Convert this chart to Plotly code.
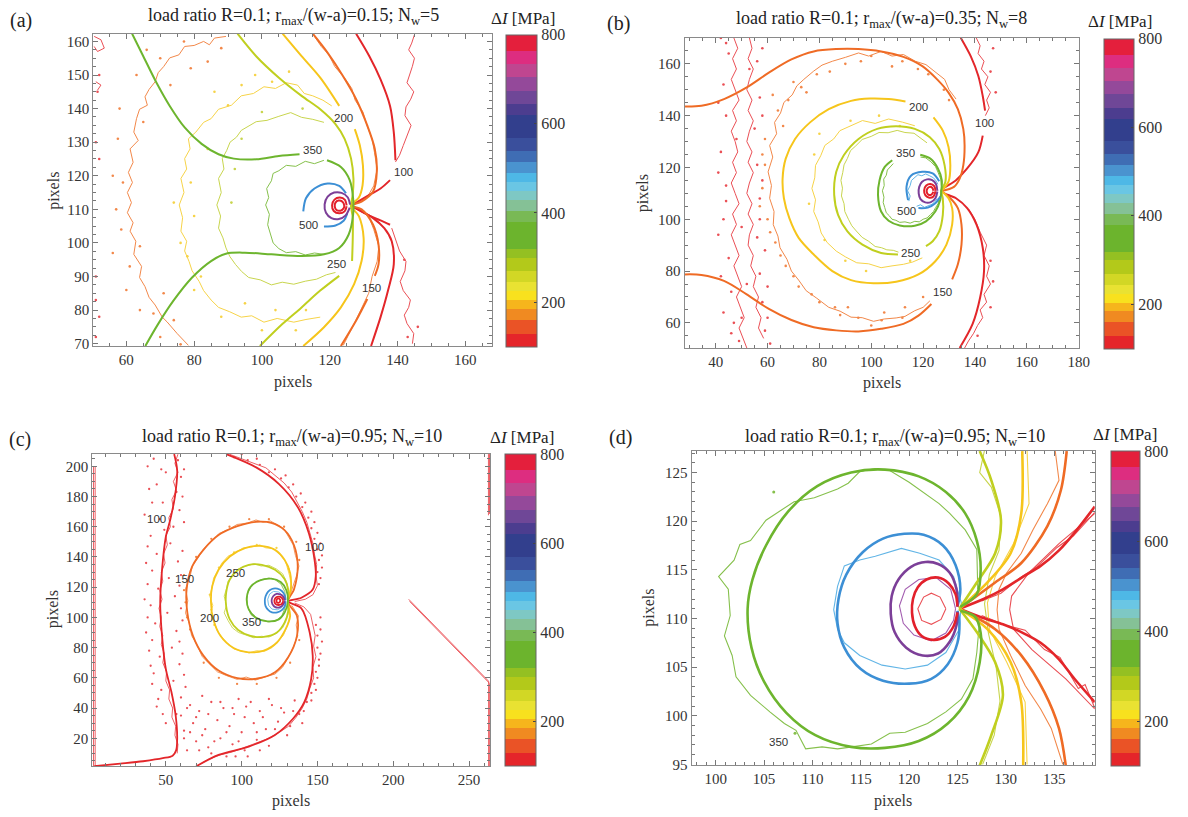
import plotly.graph_objects as go

W, H = 1188, 817

# ---------------- contour levels and colours ----------------
LEVELS = [100, 150, 200, 250, 350, 500, 650, 800]
LEVEL_COLORS = ['#e3262a', '#ef6b25', '#f6c51b', '#c0cf1f', '#6db52e', '#3c8fd5', '#7c3f98', '#e2202b']
EXP_COLORS = ['#ea4f55', '#f2884a', '#f6d348', '#c8d54e', '#86c04c', '#62b5e6', '#a35db0', '#ea4f55']

# colour bar bands (MPa) and colours, bottom to top
CB_EDGES = [100, 130, 160, 185, 205, 225, 245, 270, 300, 320, 380, 405, 430, 450, 470, 490,
            515, 540, 570, 620, 645, 675, 705, 735, 765, 800]
CB_COLORS = ['#e5252a', '#ea5326', '#f08a21', '#f6b51c', '#f8e11e', '#e9e232', '#d2d725', '#b3c91a',
             '#94c022', '#6cb42d', '#79b955', '#85c196', '#7ec8c4', '#6ac6e4', '#4eb8e6', '#4a93cf',
             '#3f6db4', '#3a4f9c', '#323f8d', '#4c3d8f', '#6f4797', '#94499a', '#bf4690', '#dd2d80', '#e41f3c']
CB_TICKS = [200, 400, 600, 800]

# ================= panel (a) =================
A_TH_100 = [[(127.8, 162.3), (131.7, 155.6), (135.0, 148.7), (137.8, 140.8), (138.9, 133.0), (139.4, 124.6)],
            [(126.3, 111.1), (131.7, 114.3), (135.0, 116.2), (137.8, 118.7)],
            [(126.3, 111.1), (131.7, 108.1), (135.0, 106.7), (137.8, 105.4)],
            [(132.2, 69.3), (135.0, 77.9), (137.2, 85.8), (138.9, 93.6), (138.3, 100.5), (136.1, 104.4), (132.8, 107.4), (126.3, 111.1)]]
A_TH_150 = [[(115.0, 162.3), (119.4, 156.6), (123.9, 149.7), (127.8, 142.8), (131.1, 134.9), (133.3, 128.0), (133.9, 121.2),
             (132.8, 115.3), (129.4, 112.3), (126.3, 111.1), (129.4, 110.0), (132.8, 105.4), (134.4, 99.5), (134.4, 93.6), (133.3, 90.2)],
            [(131.1, 83.3), (127.8, 76.9), (123.3, 69.3)]]
A_TH_200 = [[(106.1, 162.3), (111.7, 155.6), (117.2, 149.2), (122.8, 140.8)],
            [(127.4, 133.9), (128.9, 129.0), (129.8, 123.1), (129.7, 117.2), (128.6, 113.5), (126.3, 111.1), (128.6, 108.0),
             (130.0, 101.5), (129.4, 94.6), (127.2, 87.7), (123.3, 80.8), (118.3, 74.9), (112.2, 69.3)]]
A_TH_250 = [[(92.8, 162.3), (98.3, 155.6), (105.0, 149.2), (111.7, 143.8), (117.2, 139.8), (121.7, 135.4), (124.4, 131.0),
             (126.3, 125.1), (127.0, 119.2), (126.8, 114.5), (126.3, 111.1), (126.8, 107.5), (126.8, 101.5), (126.6, 94.6)],
            [(122.8, 90.2), (117.2, 85.8), (111.7, 80.8), (106.1, 75.9), (99.4, 69.3)]]
A_TH_350 = [[(61.7, 162.3), (65.0, 155.6), (68.9, 147.7), (72.8, 140.8), (77.2, 134.4), (82.2, 129.5), (87.2, 126.4),
             (91.7, 125.1), (98.3, 124.9), (105.0, 125.9), (111.1, 126.4)],
            [(65.6, 69.3), (69.4, 75.9), (73.9, 82.8), (79.4, 89.7), (85.0, 94.6), (89.4, 96.8), (95.0, 97.1), (102.8, 96.6),
             (111.7, 96.1), (118.3, 96.6), (122.8, 98.5), (125.6, 102.5), (126.9, 108.4), (126.9, 113.3), (125.9, 118.7),
             (123.3, 122.6), (119.2, 124.6)]]
A_TH_500 = [[(112.2, 109.4), (113.0, 113.3), (115.5, 116.2), (119.4, 117.7), (122.8, 117.0), (124.8, 114.8)],
            [(118.3, 104.9), (121.7, 105.2), (124.1, 106.6), (125.2, 108.8)]]
A_TH_650 = [[(126.0, 111.4), (125.3, 113.6), (123.5, 114.9), (121.3, 115.0), (119.4, 113.8), (118.5, 111.5), (118.9, 109.0),
             (120.5, 107.4), (122.7, 107.1), (124.7, 108.2), (125.9, 110.5)]]
A_TH_800 = [[(125.0, 111.2), (124.5, 112.8), (123.0, 113.5), (121.4, 112.9), (120.7, 111.2), (121.2, 109.5), (122.8, 108.8),
             (124.4, 109.4), (125.0, 110.9)],
            [(124.3, 111.0), (123.7, 112.3), (122.6, 112.6), (121.7, 112.0), (121.5, 110.8), (122.0, 109.8), (123.2, 109.6),
             (124.1, 110.3), (124.3, 111.0)]]

A_EX_100 = [[(145.0, 162.0), (144.2, 159.5), (143.3, 157.5), (145.0, 155.0), (144.4, 152.6), (143.5, 150.0), (142.8, 147.7),
             (144.8, 145.0), (143.9, 142.8), (142.5, 140.5), (142.2, 137.9), (144.0, 135.0), (143.3, 133.0), (141.7, 129.0),
             (140.6, 126.1), (139.4, 124.1)],
            [(138.3, 104.4), (139.5, 101.0), (140.6, 97.6), (142.5, 94.5), (142.2, 91.7), (140.8, 88.5), (141.7, 85.8),
             (143.8, 83.0), (143.3, 80.8), (142.0, 78.5), (142.8, 76.0), (144.8, 73.0), (144.4, 70.0)],
            [(50.5, 161.5), (52.5, 160.5), (53.5, 158.0), (51.5, 157.0), (50.5, 158.5)],
            [(51.0, 148.0), (52.5, 147.0), (51.5, 145.5)]]
A_EX_150 = [[(89.4, 161.5), (86.0, 161.0), (84.5, 159.0), (82.8, 160.0), (80.0, 158.8), (77.2, 158.5), (75.5, 156.0),
             (72.8, 155.1), (71.0, 152.5), (69.4, 150.7), (68.5, 148.0), (66.7, 145.7), (65.5, 143.5), (66.2, 141.0),
             (63.9, 139.8), (63.0, 137.0), (62.2, 133.0), (63.5, 130.5), (61.1, 128.0), (62.0, 124.0), (60.6, 121.0),
             (61.8, 118.0), (60.3, 115.0), (61.5, 112.0), (60.3, 109.0), (62.0, 106.0), (61.1, 103.5), (62.8, 100.5),
             (62.2, 96.6), (64.5, 93.0), (63.9, 89.7), (65.5, 87.0), (66.7, 83.8), (68.5, 81.5), (70.6, 77.9), (72.0, 76.5),
             (75.0, 73.0), (76.5, 71.5), (78.3, 69.5)],
            [(115.5, 161.5), (117.5, 158.5), (119.8, 156.0), (121.5, 152.5), (124.5, 149.0), (126.5, 146.0), (127.5, 142.5),
             (129.8, 139.0), (131.0, 135.0), (132.5, 131.0), (133.2, 127.0), (134.0, 122.0), (133.0, 117.0), (131.0, 113.5),
             (127.5, 111.5)],
            [(127.5, 110.5), (131.5, 108.0), (133.0, 104.0), (134.5, 99.0), (134.0, 94.5), (132.5, 90.0), (131.5, 85.0),
             (129.5, 80.5), (127.5, 76.5), (125.5, 72.5), (124.0, 69.5)]]
A_EX_200 = [[(120.6, 140.8), (118.0, 142.5), (115.0, 143.8), (112.5, 144.5), (110.5, 147.0), (107.2, 147.7), (104.0, 146.0),
             (100.6, 146.5), (97.5, 144.5), (93.9, 143.8), (91.0, 141.0), (87.2, 139.8), (85.0, 137.0), (82.8, 135.9),
             (80.5, 133.0), (78.3, 131.0), (78.8, 128.0), (77.2, 125.1), (77.8, 122.0), (76.1, 119.2), (77.0, 115.0),
             (75.6, 111.3), (76.6, 107.5), (76.1, 103.5), (77.8, 100.5), (77.2, 97.6), (78.5, 94.5), (79.4, 91.7),
             (81.5, 88.5), (82.8, 85.8), (85.0, 83.0), (87.2, 80.8), (90.5, 79.5), (93.9, 77.9), (97.0, 78.3),
             (100.6, 76.4), (104.5, 77.5), (109.4, 76.4), (113.0, 77.2), (117.2, 77.9)]]
A_EX_250 = [[(118.3, 135.9), (115.0, 136.8), (111.7, 137.4), (108.5, 138.8), (105.0, 137.7), (101.5, 136.5), (98.3, 136.1),
             (96.0, 134.8), (93.9, 133.5), (92.5, 131.5), (90.6, 130.0), (89.6, 127.5), (88.3, 125.1), (88.8, 122.0),
             (87.2, 119.2), (88.0, 115.0), (86.7, 111.3), (87.8, 108.0), (87.2, 104.4), (88.5, 101.5), (89.4, 98.5),
             (90.5, 96.0), (92.2, 93.6), (94.0, 91.5), (96.1, 89.7), (99.5, 89.0), (102.8, 87.5), (106.0, 88.3),
             (109.4, 87.7), (112.8, 88.6), (116.1, 89.2), (119.0, 90.5), (121.7, 91.2)]]
A_EX_350 = [[(118.3, 124.6), (115.5, 123.6), (112.8, 124.3), (110.0, 122.8), (107.2, 123.1), (105.0, 121.5), (103.3, 120.7),
             (102.8, 118.5), (101.4, 116.2), (102.0, 113.5), (101.1, 111.3), (102.2, 108.5), (101.7, 105.4), (102.5, 102.5),
             (103.3, 100.0), (105.0, 98.3), (107.2, 97.1), (110.0, 97.4), (112.8, 96.4), (115.5, 97.0), (118.3, 96.6)]]
A_DOT_150 = [(66, 157.5), (57.5, 131), (59, 118), (58.5, 104), (61, 93), (68, 79), (84, 154), (79, 152), (73, 147),
             (88, 158), (65, 136), (64, 99), (71, 85), (76, 69.8), (58, 140), (63, 150), (70, 155), (77, 160), (56, 120),
             (57, 110), (56, 97), (60, 86), (64, 80), (70, 72), (74, 77)]
A_DOT_200 = [(98, 150), (108, 151), (84, 128), (90, 141), (78, 96), (82, 90), (95, 82), (104, 80), (113, 80), (80, 108),
             (79, 118), (86, 145), (94, 147), (103, 148), (74, 112), (76, 100), (80, 86), (88, 78), (100, 74), (110, 74)]
A_DOT_100 = [(51, 130), (52, 125), (51, 90), (51, 83), (52, 78), (51, 72), (52, 150), (51.5, 145), (143, 72), (146, 75), (142, 95)]
A_DOT_250 = [(92, 122), (91, 112), (94, 131), (100, 139), (112, 140)]
A_LABELS = [('200', 124.2, 137.2), ('350', 115.0, 127.6), ('100', 141.7, 121.2), ('500', 113.7, 105.4),
            ('250', 122.0, 93.6), ('150', 132.2, 86.5)]

# ================= panel (b) =================
B_TH_100 = [[(134.5, 170.1), (138.4, 162.9), (141.3, 155.3), (143.0, 147.6), (143.9, 141.9)],
            [(143.0, 132.3), (141.3, 125.9), (137.0, 119.6), (132.7, 115.1), (127.0, 110.9), (132.7, 108.1), (137.0, 104.3),
             (140.6, 97.9), (143.0, 89.0), (143.5, 80.0), (142.0, 69.8), (139.1, 59.6), (134.1, 50.3)]]
B_TH_150 = [[(28.0, 143.5), (34.5, 143.8), (43.2, 146.4), (51.8, 150.8), (60.5, 156.6), (69.2, 161.7), (77.8, 164.8),
             (86.5, 165.7), (95.1, 165.7), (103.8, 164.8), (112.4, 162.7), (119.7, 159.1), (125.4, 154.0), (129.8, 148.9),
             (133.4, 142.5), (135.5, 134.9), (136.0, 128.5), (135.5, 120.8), (134.1, 115.7), (131.9, 112.5), (127.0, 110.9)],
            [(28.0, 78.7), (34.5, 78.5), (43.2, 76.2), (51.8, 71.1), (60.5, 65.4), (69.2, 61.1), (77.8, 58.3), (86.5, 57.1),
             (95.1, 56.7), (103.8, 57.7), (112.4, 59.6), (118.2, 62.8), (123.2, 67.3)],
            [(131.2, 76.8), (133.4, 82.6), (134.8, 90.2), (134.8, 97.9), (133.4, 104.3), (130.5, 108.1), (127.0, 110.9)]]
B_TH_200 = [[(113.2, 145.5), (106.7, 146.4), (99.5, 146.6), (92.2, 145.7), (83.6, 142.5), (76.4, 137.4), (70.6, 131.0),
             (67.0, 123.4), (65.8, 115.7), (66.3, 108.1), (68.4, 100.4), (72.0, 92.8), (77.8, 86.4), (85.0, 80.0),
             (92.2, 76.5), (100.9, 75.3), (109.6, 75.9), (118.2, 78.7), (124.7, 83.8), (129.0, 90.2), (131.2, 97.9),
             (131.2, 104.3), (129.8, 108.1), (127.0, 110.9)],
            [(124.0, 139.3), (127.6, 134.2), (129.8, 127.9), (130.5, 120.8), (129.8, 114.5), (127.0, 110.9)]]
B_TH_250 = [[(110.3, 86.4), (103.8, 87.0), (96.6, 90.2), (90.8, 95.3), (87.2, 101.7), (85.7, 109.4), (86.5, 118.3),
             (89.4, 124.7), (95.1, 131.0), (102.3, 134.9), (109.6, 135.9), (116.8, 134.9), (122.6, 131.7), (126.2, 127.2),
             (128.3, 120.8), (128.6, 114.5), (127.0, 110.9), (127.6, 108.1), (127.6, 101.7), (126.2, 95.3), (123.7, 91.5),
             (121.1, 89.6)]]
B_TH_350 = [[(108.1, 122.8), (105.2, 120.2), (103.2, 115.1), (102.6, 109.4), (103.8, 103.0), (106.7, 99.4), (111.0, 97.6),
             (116.8, 97.5), (121.1, 99.2), (124.7, 103.0), (126.6, 107.4), (127.0, 110.9)],
            [(118.9, 124.9), (122.8, 123.4), (125.7, 119.6), (127.2, 115.1), (127.0, 110.9)]]
B_TH_500 = [[(114.2, 107.4), (113.6, 112.6), (115.3, 116.8), (119.7, 118.3), (123.7, 117.7), (126.2, 114.7)],
            [(118.2, 104.3), (121.8, 104.5), (124.7, 106.2), (126.6, 108.7)]]
B_TH_650 = [[(125.5, 111.0), (125.0, 113.5), (123.5, 115.1), (121.5, 115.4), (119.6, 114.5), (118.5, 112.5), (118.3, 110.0),
             (119.0, 107.8), (120.8, 106.5), (123.0, 106.6), (124.8, 108.2), (125.5, 110.7)]]
B_TH_800 = [[(124.8, 111.0), (124.3, 112.8), (122.8, 113.6), (121.2, 113.0), (120.4, 111.2), (120.9, 109.2), (122.4, 108.3),
             (124.0, 108.8), (124.8, 110.8)],
            [(124.0, 111.0), (123.5, 112.2), (122.5, 112.5), (121.6, 111.8), (121.4, 110.5), (122.0, 109.5), (123.2, 109.5),
             (124.0, 110.6)]]

B_EX_100 = [[(47, 170), (48.5, 166), (46.5, 162), (48, 158), (46, 154), (47.5, 150), (49, 146), (46.5, 142), (48, 138), (46, 134),
             (47.5, 130), (48.5, 126), (46.5, 122), (48, 118), (46, 114), (47.5, 110), (49, 106), (46.5, 102), (48, 98), (46, 94),
             (47.5, 90), (49, 86), (47, 82), (48.5, 78), (50, 74), (48, 70), (49.5, 66), (51, 62), (49, 58), (50.5, 54), (52, 50.3)],
            [(53, 170), (54, 166), (52.5, 162), (54.5, 158), (53, 154), (52, 150), (54, 146), (52.5, 142), (54.5, 138), (53, 134),
             (52, 130), (54, 126), (52.5, 122), (54.5, 118), (53, 114), (52, 110), (54, 106), (52.5, 102), (54.5, 98), (53, 94),
             (52.5, 90), (54.5, 86), (53.5, 82), (55.5, 78), (54.5, 74), (56.5, 70), (55.5, 66), (57.5, 62), (56.5, 58), (58.5, 54)],
            [(140.5, 170), (142, 167), (141.2, 164), (143.5, 161), (142.5, 158), (145, 155), (143.8, 152), (146, 149),
             (144.5, 146), (145.5, 143), (144, 140)],
            [(136, 50.3), (137.5, 53), (139.5, 56), (141, 59), (143, 62), (142, 65), (144.5, 68), (143.5, 71), (146, 75),
             (144.5, 78), (145.5, 82), (143.5, 86), (144.5, 90), (142, 95), (140, 100), (137.5, 104)]]
B_EX_150 = [[(132.7, 146.4), (130.0, 150.0), (128.3, 154.0), (125.0, 156.5), (121.1, 159.7), (117.0, 161.0), (112.4, 163.6),
             (108.0, 163.0), (103.8, 164.8), (99.0, 163.0), (95.1, 164.2), (90.0, 162.5), (85.0, 161.0), (81.0, 159.5),
             (77.8, 157.2), (74.0, 154.0), (71.3, 151.5), (69.5, 148.0), (66.3, 145.1), (65.0, 141.0), (62.7, 137.4),
             (63.5, 133.0), (60.8, 128.5), (62.0, 124.0), (60.2, 118.3), (61.5, 113.0), (60.8, 108.1), (62.5, 103.0),
             (62.2, 97.9), (64.0, 93.5), (64.8, 89.0), (67.5, 84.5), (69.2, 80.0), (72.0, 76.5), (74.9, 72.4), (79.0, 69.5),
             (83.6, 66.0), (88.0, 64.5), (92.2, 62.2), (96.5, 62.0), (100.9, 60.6), (105.0, 61.5), (109.6, 61.9),
             (113.0, 62.5), (116.8, 64.7), (120.0, 66.0), (122.6, 68.5)]]
B_EX_200 = [[(116.8, 136.1), (112.0, 137.5), (106.7, 138.7), (101.5, 137.0), (96.6, 138.1), (92.0, 136.0), (87.9, 134.2),
             (85.5, 131.0), (82.1, 128.5), (80.5, 124.5), (78.5, 120.8), (78.2, 116.0), (77.1, 111.9), (78.5, 107.5),
             (77.8, 103.0), (79.5, 99.0), (80.7, 94.7), (83.0, 91.0), (86.5, 87.7), (90.0, 85.5), (94.4, 83.2), (99.0, 82.8),
             (103.8, 81.3), (108.0, 82.0), (112.4, 82.6), (116.0, 83.5), (119.7, 85.1)]]
B_EX_250 = [[(121.5, 129.5), (119.0, 131.5), (116.5, 133.2), (113.0, 133.5), (110.0, 134.3), (106.5, 133.4), (103.0, 133.5),
             (100.0, 132.0), (96.5, 130.8), (94.0, 128.3), (92.0, 126.5), (90.8, 123.5), (89.5, 121.0), (89.0, 118.0),
             (88.3, 115.0), (88.9, 112.0), (88.5, 109.0), (89.5, 106.0), (89.8, 103.0), (91.2, 100.0), (92.5, 97.5),
             (94.2, 95.5), (96.5, 93.0), (99.0, 91.5), (101.5, 89.5), (104.0, 89.0), (106.0, 88.2), (108.5, 88.0), (110.5, 87.3)]]
B_EX_350 = [[(108.5, 121.5), (107.5, 120.5), (106.2, 119.0), (105.8, 117.0), (104.8, 115.5), (105.0, 113.0), (104.3, 111.0),
             (104.9, 108.5), (104.6, 106.5), (105.2, 104.5), (105.8, 102.5), (107.0, 101.3), (108.0, 100.0), (109.5, 99.6),
             (111.0, 98.8), (113.0, 99.0), (115.0, 98.5), (116.8, 99.2), (118.5, 99.0), (120.0, 100.0), (121.5, 100.5),
             (122.8, 101.8), (124.0, 103.0), (124.8, 104.5), (125.8, 106.0), (126.0, 107.5), (126.5, 109.0)],
            [(119.0, 124.0), (121.0, 123.7), (123.0, 122.2), (124.8, 120.3), (125.8, 118.0), (126.8, 115.5), (127.0, 113.0)]]
B_EX_500 = [[(114.5, 107), (115, 109), (114, 111), (115, 113), (115.5, 115), (117, 116.5), (118, 117.2), (119.5, 116.8),
             (121, 117.5), (122.5, 116.8), (124, 116), (125, 114.8), (125.7, 113.5)],
            [(117.5, 105), (119, 105.6), (120.5, 104.6), (122, 105.3), (123.5, 105.8), (124.5, 106.8), (125.5, 108)]]
B_DOT_100 = [(44, 168), (56, 161), (43, 152), (57, 147), (44, 140), (55, 135), (42, 126), (56, 121), (44, 113), (57, 108),
             (43, 100), (56, 93), (45, 85), (57, 79), (46, 72), (58, 68), (47, 60), (59, 57), (49, 53), (45, 164), (53, 158),
             (48, 131), (50, 97), (52, 75), (147, 166), (146, 157), (148, 149), (146, 66), (147, 76), (146, 84), (141, 55),
             (42, 170), (58, 166), (41, 145), (58, 140), (41, 118), (58, 115), (41, 94), (59, 88), (42, 78), (60, 74),
             (43, 64), (60, 62), (46, 56), (61, 52), (50, 62), (44, 107), (57, 100)]
B_DOT_150 = [(70, 153), (64, 142), (59, 131), (59, 121), (58, 112), (60, 100), (63, 91), (67, 82), (72, 74), (80, 68),
             (88, 63), (100, 59), (108, 159), (118, 158), (128, 150), (75, 149), (62, 148), (66, 136), (84, 157), (96, 161),
             (113, 66), (120, 70), (105, 64), (91, 66), (58, 125), (57, 105), (61, 95), (65, 86), (70, 78), (77, 71),
             (86, 66), (95, 62), (104, 61), (112, 62), (68, 146), (73, 151), (79, 156), (90, 160), (100, 163), (112, 161),
             (122, 156), (130, 146)]
B_DOT_200 = [(78, 125), (80, 133), (76, 106), (82, 92), (90, 84), (103, 140), (111, 136), (92, 138), (98, 80), (115, 84)]
B_LABELS = [('200', 118.2, 143.2), ('100', 143.8, 137.0), ('350', 113.2, 125.7), ('500', 113.6, 103.0),
            ('250', 115.3, 86.8), ('150', 127.6, 72.1)]

# ================= panel (c) =================
C_TH_100 = [[(55.5, 208.1), (57.5, 197.2), (56.0, 180.0), (53.0, 165.0), (50.0, 153.4), (47.5, 131.5), (46.3, 109.7),
             (47.5, 87.8), (50.0, 65.9), (53.7, 50.6), (56.5, 35.0), (57.5, 20.0), (56.8, 12.0), (54.5, 8.5), (48.0, 6.8),
             (35.0, 4.8), (20.0, 3.2), (2.8, 1.5)],
            [(89.8, 208.1), (109.6, 199.3), (124.5, 188.4), (137.0, 173.1), (144.4, 155.6), (148.1, 138.1), (148.9, 127.2),
             (146.9, 118.4), (139.4, 113.0), (130.5, 110.5), (139.4, 106.0), (144.9, 90.0), (146.9, 74.7), (145.9, 59.4),
             (141.4, 44.1), (134.0, 33.1), (122.0, 22.2), (104.7, 14.5), (84.8, 9.0), (70.0, 1.4)]]
C_TH_150 = [[(130.5, 110.5), (134.5, 118.4), (137.0, 133.7), (134.5, 147.9), (128.3, 157.8), (119.6, 162.6), (109.6, 163.3),
             (97.2, 160.4), (84.8, 154.5), (74.8, 144.7), (67.4, 133.7), (63.7, 118.4), (64.2, 103.1), (67.9, 87.8),
             (74.8, 74.7), (84.8, 64.8), (97.2, 59.8), (109.6, 59.4), (122.0, 63.7), (130.7, 73.6), (136.5, 87.8),
             (136.5, 100.9), (130.5, 110.5)]]
C_TH_200 = [[(130.5, 110.5), (132.5, 119.5), (132.0, 129.4), (128.3, 138.1), (122.0, 144.7), (112.1, 147.3), (102.2, 145.8),
             (92.2, 140.3), (84.8, 131.5), (80.6, 120.6), (79.8, 109.7), (81.3, 98.7), (86.0, 87.8), (94.7, 79.7),
             (104.7, 76.9), (114.6, 78.0), (123.3, 83.4), (129.0, 92.2), (132.0, 100.9), (130.5, 110.5)]]
C_TH_250 = [[(130.5, 110.5), (130.7, 118.0), (128.3, 125.4), (122.0, 131.5), (113.4, 134.8), (104.7, 134.8), (97.7, 131.5),
             (92.2, 125.0), (89.8, 116.2), (89.8, 107.5), (92.2, 98.7), (97.7, 91.7), (105.9, 87.8), (114.6, 87.1),
             (123.3, 90.0), (128.3, 96.5), (130.7, 104.2), (130.5, 110.5)]]
C_TH_350 = [[(130.5, 110.5), (129.5, 118.0), (125.8, 123.4), (119.6, 125.6), (112.1, 124.5), (105.9, 120.2), (103.4, 112.9),
             (104.7, 105.3), (109.6, 99.8), (117.1, 97.4), (124.5, 98.7), (128.5, 103.5), (130.5, 110.5)]]
C_TH_500 = [[(129.0, 111.3), (128.5, 114.5), (126.5, 117.5), (123.5, 119.0), (120.0, 118.8), (117.5, 117.0), (115.8, 114.0),
             (115.3, 111.0), (115.8, 107.5), (117.5, 105.0), (120.0, 103.4), (123.5, 103.3), (126.5, 104.8), (128.5, 107.5),
             (129.0, 110.7)]]
C_TH_650 = [[(128.5, 111.2), (127.5, 113.8), (125.5, 115.3), (123.0, 115.5), (120.8, 114.0), (119.8, 111.5), (120.3, 108.8),
             (122.2, 106.8), (124.8, 106.6), (127.0, 108.0), (128.5, 110.8)]]
C_TH_800 = [[(127.5, 111.0), (126.5, 113.0), (124.5, 113.8), (122.5, 113.0), (121.6, 111.0), (122.3, 109.0), (124.3, 108.2),
             (126.3, 108.8), (127.5, 110.8)],
            [(125.5, 111.0), (124.8, 112.3), (123.6, 112.4), (123.0, 111.0), (123.6, 109.7), (124.8, 109.8), (125.5, 111.0)]]

C_EX_100 = [[(58, 208), (56, 202), (58, 196), (55, 190), (57, 184), (54, 178), (55, 172), (52, 166), (53, 160), (50, 154),
             (51, 148), (48.5, 142), (49.5, 136), (47, 130), (48, 124), (46, 118), (47.5, 112), (45.5, 106), (47, 100),
             (46, 94), (48, 88), (47, 82), (49, 76), (48, 70), (50.5, 64), (50, 58), (52.5, 52), (52, 46), (54.5, 40),
             (54, 34), (56.5, 28), (56, 22), (58, 16), (57.5, 10)],
            [(92, 208), (100, 205), (108, 202), (116, 199), (122, 194), (128, 189), (133, 183), (137, 176), (140, 170),
             (143, 163), (145, 156), (147, 149), (148, 142), (149.5, 135), (149, 128), (150, 121), (147, 115), (142, 112),
             (135, 110.5)],
            [(135, 109.5), (141, 107), (145.5, 102), (147, 95), (148.5, 88), (147.5, 81), (149, 74), (147, 67), (147.5, 60),
             (145, 53), (143, 46), (140, 40), (136, 34), (131, 28), (125, 24), (118, 20), (110, 17), (102, 14), (94, 11),
             (86, 9), (78, 6), (73, 3)],
            [(2.3, 200.0), (2.3, 1.4)], [(3.4, 200.0), (3.4, 1.4)],
            [(262.8, 208.1), (262.8, 167.6)], [(263.5, 208.1), (263.5, 168.5)],
            [(210.2, 112.0), (262.9, 57.8), (262.9, 1.4)], [(210.8, 110.6), (263.6, 56.3), (263.6, 1.4)]]
C_EX_150 = [[(131, 112), (133.5, 119), (136, 127), (137.8, 134), (135.5, 141), (134, 148), (131, 153), (128, 158.5), (124, 161),
             (119, 163.8), (114, 163), (109.5, 164.5), (104, 162.5), (97, 161.5), (91, 158), (85, 155.5), (80, 150),
             (75, 145.5), (71, 139), (67.5, 134), (66, 127), (63, 119), (64.5, 111), (63, 103), (65.5, 96), (67, 88),
             (71, 81), (74, 74), (79, 69), (84, 64), (90, 61.5), (97, 59), (103, 60.5), (109, 58.5), (115, 60.5),
             (122, 62.5), (127, 67), (130.5, 73), (134, 80), (137, 88), (136, 95), (137.5, 101), (133, 108)]]
C_EX_200 = [[(131.5, 112), (133, 120), (131.5, 128), (129, 137), (125, 142), (121, 145.5), (116, 146), (112, 148), (106, 146.5),
             (101, 146), (96, 143), (91, 140.5), (87, 136), (84.5, 131), (81.5, 126), (80.5, 120), (79, 114), (81, 108),
             (79.5, 102), (82, 97), (84, 91), (87, 87), (91, 82.5), (95, 79), (100, 78), (105, 76.5), (110, 78), (115, 77.5),
             (120, 80), (124, 84), (127.5, 88), (130, 94), (131.5, 100), (131, 106)]]
C_EX_250 = [[(130, 112), (131, 118), (129.5, 124), (127, 129), (123, 132), (118, 134.5), (113, 134), (108, 135.5), (103, 134),
             (98, 132), (94, 128), (91, 124), (90, 119), (88.5, 114), (90, 108), (88.5, 103), (91, 98), (94, 93), (98, 90),
             (103, 88.5), (108, 86.5), (113, 87.5), (118, 87), (123, 89.5), (127, 93), (129.5, 98), (131, 104), (130, 109)]]
C_EX_350 = [[(129, 112), (128.5, 117), (126, 122), (122, 125), (118, 126), (113, 125), (109, 123), (106, 120), (104, 116),
             (103.5, 112), (104, 107), (106, 102), (109, 99.5), (113, 98), (118, 97), (123, 98), (126.5, 101), (128.5, 106),
             (129, 110)]]
C_EX_500 = [[(128, 111), (127, 114.5), (124.5, 116.8), (121, 117.2), (118.5, 115.5), (117.2, 112), (117.8, 108), (120, 105.5),
             (123.5, 105), (126.5, 106.5), (128, 109.5)]]
C_DOT_100 = [(42, 205), (58, 204), (47, 198), (60, 193), (44, 188), (57, 183), (41, 176), (59, 171), (46, 165), (55, 160),
             (40, 154), (53, 149), (44, 142), (58, 137), (41, 131), (52, 126), (45, 119), (56, 114), (40, 108), (51, 103),
             (43, 96), (57, 91), (41, 85), (54, 80), (46, 74), (59, 69), (42, 63), (55, 58), (47, 52), (60, 47), (44, 41),
             (57, 36), (50, 30), (62, 25),
             (38, 200), (50, 196), (62, 198), (39, 185), (61, 180), (48, 176), (36, 168), (62, 163), (49, 158), (38, 147),
             (61, 144), (37, 136), (60, 128), (38, 122), (59, 121), (36, 112), (60, 106), (38, 100), (61, 98), (37, 90),
             (59, 84), (39, 78), (61, 76), (40, 68), (62, 62), (41, 56), (63, 54), (45, 46), (64, 40), (48, 36),
             (66, 42), (72, 38), (80, 44), (88, 40), (95, 36), (103, 41), (112, 38), (120, 42), (128, 37), (68, 30), (76, 26),
             (84, 32), (92, 28), (100, 24), (108, 30), (116, 26), (124, 31), (132, 28), (70, 18), (78, 14), (86, 20), (94, 16),
             (102, 12), (110, 19), (118, 15), (64, 12), (90, 8), (60, 35), (74, 48), (98, 46), (135, 45), (138, 36),
             (62, 20), (66, 24), (70, 34), (74, 22), (78, 36), (82, 18), (86, 44), (90, 24), (94, 40), (98, 18), (102, 34),
             (106, 44), (110, 24), (114, 34), (118, 46), (122, 26), (126, 40), (130, 22), (134, 38), (140, 30), (80, 10),
             (96, 8), (112, 12), (104, 8), (72, 12),
             (95, 206), (104, 204), (112, 201), (118, 196), (126, 192), (131, 186), (136, 180), (140, 173), (144, 166),
             (146, 159), (148, 152), (150, 145), (151, 138), (150, 130), (151, 122), (149, 95), (150, 88), (150, 80),
             (151, 72), (149, 64), (148, 56), (146, 50), (143, 44),
             (100, 208), (110, 205), (122, 198), (129, 194), (134, 188), (139, 182), (142, 176), (146, 170), (148, 163),
             (150, 156), (152, 149), (153, 141), (153, 133), (152, 126), (152, 100), (152, 92), (153, 84), (152, 76),
             (151, 68), (150, 60), (149, 52), (146, 45), (141, 38)]
C_DOT_150 = [(62, 118), (63, 110), (64, 100), (66, 92), (62, 128), (70, 140), (80, 152), (92, 160), (105, 165), (118, 165),
             (128, 160), (136, 150), (138, 138), (75, 70), (85, 60), (97, 56), (110, 56), (123, 60), (132, 70), (138, 85)]
C_DOT_200 = [(79, 115), (80, 105), (82, 95), (85, 133), (95, 143), (110, 148), (123, 146), (131, 132)]
C_LABELS = [('100', 43.8, 164.8), ('100', 148.1, 146.4), ('150', 62.4, 125.6), ('250', 96.0, 129.4),
            ('200', 78.6, 99.8), ('350', 106.6, 97.2)]

# ================= panel (d) =================
D_TH_100 = [[(125.2, 111.0), (127.7, 112.0), (129.7, 113.0), (131.8, 114.3), (133.6, 115.4), (135.5, 117.0), (137.1, 118.8), (139.2, 121.5)],
            [(125.2, 111.0), (127.5, 110.1), (129.7, 109.4), (131.8, 108.5), (133.6, 107.5), (135.5, 105.8), (137.1, 103.8), (139.2, 101.4)]]
D_TH_150 = [[(125.2, 111.0), (128.9, 113.7), (131.6, 115.7), (134.3, 119.5), (135.7, 123.2), (136.3, 127.2)],
            [(125.2, 111.0), (128.9, 108.9), (131.6, 106.2), (134.0, 102.4), (135.5, 98.7), (136.2, 94.9)]]
D_TH_200 = [[(125.2, 111.0), (128.1, 113.7), (130.5, 116.7), (131.6, 120.8), (131.7, 127.2)],
            [(125.2, 111.0), (128.1, 108.9), (130.5, 105.5), (131.6, 101.4), (131.8, 94.9)]]
D_TH_250 = [[(125.2, 111.0), (127.0, 113.7), (128.9, 116.7), (129.5, 120.1), (128.5, 124.2), (127.3, 127.2)],
            [(125.2, 111.0), (127.0, 108.6), (128.9, 105.5), (129.7, 102.1), (128.5, 98.0), (127.3, 94.9)]]
D_TH_350 = [[(125.3, 111.2), (127.0, 112.5), (127.4, 115.0), (127.0, 118.0), (125.8, 120.8), (123.8, 123.0), (121.0, 124.6),
             (117.5, 125.3), (114.0, 125.0), (110.5, 123.6), (107.5, 121.0), (105.2, 117.5), (103.8, 114.0), (103.3, 111.0),
             (103.7, 107.0), (105.0, 103.5), (107.3, 100.3), (110.3, 98.0), (114.0, 96.8), (117.5, 96.7), (121.0, 97.4),
             (124.0, 99.2), (126.2, 102.0), (127.3, 105.5), (127.4, 108.5), (126.8, 110.2), (125.3, 110.8)]]
D_TH_500 = [[(125.0, 111.2), (125.3, 113.0), (124.8, 115.5), (123.5, 117.5), (121.5, 118.6), (119.5, 118.7), (117.3, 118.2),
             (115.2, 116.8), (113.5, 114.5), (112.7, 112.0), (112.6, 109.5), (113.3, 107.0), (115.0, 104.8), (117.3, 103.6),
             (120.0, 103.3), (122.3, 103.8), (124.0, 105.3), (125.0, 107.5), (125.2, 109.5), (125.0, 110.8)]]
D_TH_650 = [[(125.0, 111.3), (124.9, 113.0), (124.2, 114.7), (123.0, 115.6), (121.7, 115.8), (120.2, 115.3), (118.9, 114.0),
             (118.2, 112.3), (118.1, 110.5), (118.5, 108.6), (119.7, 107.0), (121.4, 106.2), (123.0, 106.4), (124.2, 107.6),
             (124.9, 109.3), (125.0, 110.7)]]
D_TH_800 = [[(125.0, 111.2), (124.8, 112.5), (124.1, 113.6), (123.0, 114.2), (121.8, 114.0), (120.9, 113.2), (120.4, 112.0),
             (120.3, 110.6), (120.6, 109.2), (121.3, 108.2), (122.5, 107.8), (123.7, 108.1), (124.6, 109.2), (125.0, 110.6)]]

D_EX_100 = [[(139.2, 120.8), (135.5, 117.7), (132.4, 114.7), (130.6, 112.3), (130.4, 110.9), (130.8, 108.9), (132.7, 106.8),
             (136.2, 103.8), (139.2, 100.7)],
            [(127.5, 111.8), (129.5, 112.6), (131.5, 114.2), (133.2, 115.3), (135.3, 117.3), (137.0, 118.5), (139.2, 120.9)],
            [(127.5, 110.3), (130.0, 109.3), (132.0, 108.8), (134.0, 106.8), (135.6, 106.0), (137.5, 102.8), (138.2, 103.2), (139.2, 100.8)],
            [(123.8, 111.0), (123.2, 112.2), (122.3, 112.6), (121.5, 112.2), (120.9, 111.0), (121.3, 109.8), (122.3, 109.4),
             (123.3, 109.9), (123.8, 111.0)]]
D_EX_150 = [[(135.1, 127.3), (135.5, 124.2), (134.3, 121.8), (132.8, 119.1), (131.6, 116.7), (130.1, 114.7), (129.3, 113.0),
             (129.1, 110.9), (129.3, 108.9), (130.5, 106.2), (132.0, 103.1), (133.6, 100.7), (134.7, 98.7), (135.9, 95.0)]]
D_EX_200 = [[(132.2, 127.3), (132.4, 121.8), (130.8, 117.7), (128.9, 114.3), (128.1, 111.6), (128.3, 108.9), (130.1, 105.5),
             (132.0, 101.4), (132.2, 95.0)]]
D_EX_250 = [[(127.8, 127.3), (127.3, 125.0), (128.5, 123.5), (129.5, 120.5), (129.3, 117.0), (128.3, 114.5), (127.8, 111.5),
             (128.2, 108.5), (129.0, 105.0), (129.4, 101.5), (128.8, 98.0), (127.6, 95.0)]]
D_EX_350 = [[(127.1, 113.0), (127.0, 117.1), (125.8, 119.1), (124.2, 120.8), (123.1, 121.8), (121.1, 123.2), (120.0, 124.0),
             (118.0, 125.2), (116.5, 125.4), (114.9, 125.1), (113.7, 123.9), (112.6, 123.3), (110.2, 122.4), (108.1, 122.0),
             (106.3, 120.8), (105.2, 120.1), (103.6, 118.0), (102.5, 117.6), (101.9, 116.0), (100.3, 114.3), (101.3, 113.0),
             (101.5, 110.3), (100.9, 108.2), (101.7, 106.2), (102.1, 104.0), (103.6, 102.1), (105.6, 100.4), (107.1, 99.2),
             (108.3, 98.5), (109.3, 96.6), (111.0, 96.8), (112.6, 96.6), (114.1, 96.8), (116.1, 97.1), (118.0, 98.2),
             (119.6, 98.3), (121.9, 99.2), (123.8, 100.4), (125.4, 101.7), (126.6, 103.8), (127.0, 106.5), (127.3, 109.9)]]
D_EX_500 = [[(121.1, 116.7), (119.2, 117.2), (116.5, 116.4), (114.9, 116.0), (113.3, 115.4), (112.6, 113.3), (112.2, 110.9),
             (112.6, 108.9), (113.3, 107.5), (114.9, 106.2), (117.2, 105.2), (119.6, 104.8), (121.9, 105.2), (123.8, 106.5),
             (125.2, 108.9), (125.4, 111.6), (124.6, 114.3), (123.1, 116.0), (121.1, 116.7)]]
D_EX_650 = [[(124.8, 111.0), (124.3, 113.0), (122.8, 114.2), (121.0, 114.0), (119.6, 113.0), (119.0, 111.3), (119.4, 109.5),
             (120.5, 108.3), (122.3, 107.7), (123.8, 108.5), (124.6, 109.8), (124.8, 111.0)]]
D_DOT_350 = [(106.0, 123.0), (108.2, 98.2)]
D_LABELS = [('350', 106.5, 97.3)]

# ---------------- panel geometry (pixels) ----------------
PANELS = {
    'a': dict(ax='', box=(94, 497, 34, 349), xr=[50.2, 168.0], yr=[69.3, 162.3], xd=20, xm=5, yd=10, ym=2.5,
              cb=(511, 31, 35, 350), title=(296, 17), lab=(21, 21), cbt=(528, 19), xt=(296, 385), yt=(55, 192),
              sub='0.15', nw='5', thw=2.0, exw=1.0, dot=2.6),
    'b': dict(ax='2', box=(691, 1089, 38, 351), xr=[28.0, 180.1], yr=[50.3, 170.1], xd=20, xm=5, yd=20, ym=5,
              cb=(1114, 30, 39, 352), title=(890, 20), lab=(624, 24), cbt=(1130, 22), xt=(890, 386), yt=(649, 195),
              sub='0.35', nw='8', thw=2.0, exw=1.0, dot=2.6),
    'c': dict(ax='3', box=(93, 495, 458, 773), xr=[1.4, 264.1], yr=[1.4, 208.1], xd=50, xm=10, yd=20, ym=5,
              cb=(510, 31, 458, 773), title=(295, 441), lab=(20, 443), cbt=(527, 441), xt=(294, 808), yt=(53, 615),
              sub='0.95', nw='10', thw=1.8, exw=0.9, dot=2.3),
    'd': dict(ax='4', box=(698, 1105, 455, 772), xr=[97.5, 139.2], yr=[94.9, 127.2], xd=5, xm=1, yd=5, ym=1,
              cb=(1121, 29, 455, 773), title=(903, 441), lab=(626, 441), cbt=(1136, 438), xt=(901, 808), yt=(655, 613),
              sub='0.95', nw='10', thw=2.6, exw=1.1, dot=3.0),
}

PANEL_DATA = {
    'a': dict(th=[A_TH_100, A_TH_150, A_TH_200, A_TH_250, A_TH_350, A_TH_500, A_TH_650, A_TH_800],
              ex=[A_EX_100, A_EX_150, A_EX_200, A_EX_250, A_EX_350, [], [], []],
              dots=[A_DOT_100, A_DOT_150, A_DOT_200, A_DOT_250, [], [], [], []], labels=A_LABELS),
    'b': dict(th=[B_TH_100, B_TH_150, B_TH_200, B_TH_250, B_TH_350, B_TH_500, B_TH_650, B_TH_800],
              ex=[B_EX_100, B_EX_150, B_EX_200, B_EX_250, B_EX_350, B_EX_500, [], []],
              dots=[B_DOT_100, B_DOT_150, B_DOT_200, [], [], [], [], []], labels=B_LABELS),
    'c': dict(th=[C_TH_100, C_TH_150, C_TH_200, C_TH_250, C_TH_350, C_TH_500, C_TH_650, C_TH_800],
              ex=[C_EX_100, C_EX_150, C_EX_200, C_EX_250, C_EX_350, C_EX_500, [], []],
              dots=[C_DOT_100, C_DOT_150, C_DOT_200, [], [], [], [], []], labels=C_LABELS),
    'd': dict(th=[D_TH_100, D_TH_150, D_TH_200, D_TH_250, D_TH_350, D_TH_500, D_TH_650, D_TH_800],
              ex=[D_EX_100, D_EX_150, D_EX_200, D_EX_250, D_EX_350, D_EX_500, D_EX_650, []],
              dots=[[], [], [], [], D_DOT_350, [], [], []], labels=D_LABELS),
}

SERIF = 'Liberation Serif'
SANS = 'Liberation Sans'


def unpack(segs):
    xs, ys = [], []
    for s in segs:
        for p in s:
            xs.append(p[0])
            ys.append(p[1])
        xs.append(None)
        ys.append(None)
    return xs, ys


def colorscale():
    cs = []
    span = CB_EDGES[-1] - CB_EDGES[0]
    for i, c in enumerate(CB_COLORS):
        cs.append([(CB_EDGES[i] - CB_EDGES[0]) / span, c])
        cs.append([(CB_EDGES[i + 1] - CB_EDGES[0]) / span, c])
    return cs


def px(x):
    return x / W


def py(y):
    return 1 - y / H


def note(x, y, text, size, family=SERIF, color='#222', angle=0):
    return dict(x=px(x), y=py(y), xref='paper', yref='paper', xanchor='center', yanchor='middle', showarrow=False,
                text=text, textangle=angle, font=dict(family=family, size=size, color=color))


fig = go.Figure()
annotations = []
layout_axes = {}

for key, P in PANELS.items():
    D = PANEL_DATA[key]
    xa, ya = 'x' + P['ax'], 'y' + P['ax']
    # experimental (thin) contours first
    for i, lev in enumerate(LEVELS):
        if D['ex'][i]:
            x, y = unpack(D['ex'][i])
            fig.add_trace(go.Scatter(x=x, y=y, mode='lines', xaxis=xa, yaxis=ya, showlegend=False, hoverinfo='skip',
                                     line=dict(color=EXP_COLORS[i], width=P['exw'])))
        if D['dots'][i]:
            fig.add_trace(go.Scatter(x=[p[0] for p in D['dots'][i]], y=[p[1] for p in D['dots'][i]], mode='markers',
                                     xaxis=xa, yaxis=ya, showlegend=False, hoverinfo='skip',
                                     marker=dict(color=EXP_COLORS[i], size=P['dot'], line=dict(width=0))))
    # theoretical (thick) contours
    for i, lev in enumerate(LEVELS):
        x, y = unpack(D['th'][i])
        fig.add_trace(go.Scatter(x=x, y=y, mode='lines', xaxis=xa, yaxis=ya, showlegend=False, hoverinfo='skip',
                                 line=dict(color=LEVEL_COLORS[i], width=P['thw'], shape='spline', smoothing=0.9)))
    # colour bar
    cbx, cbw, cbt, cbb = P['cb']
    fig.add_trace(go.Scatter(x=[None], y=[None], mode='markers', xaxis=xa, yaxis=ya, showlegend=False, hoverinfo='skip',
                             marker=dict(color=[CB_EDGES[0]], cmin=CB_EDGES[0], cmax=CB_EDGES[-1], colorscale=colorscale(),
                                         showscale=True,
                                         colorbar=dict(x=px(cbx), xanchor='left', y=py(cbt), yanchor='top',
                                                       len=(cbb - cbt) / H, lenmode='fraction', thickness=cbw,
                                                       thicknessmode='pixels', xpad=0, ypad=0, outlinewidth=1,
                                                       outlinecolor='#666', tickvals=CB_TICKS, ticks='inside', ticklen=3,
                                                       tickcolor='#444',
                                                       tickfont=dict(family=SERIF, size=16, color='#333')))))
    # axes
    x0, x1, y0, y1 = P['box']
    common = dict(ticks='inside', ticklen=5, tickwidth=1, tickcolor='#777', showline=True, linecolor='#8a8a8a',
                  linewidth=1, mirror='allticks', showgrid=False, zeroline=False, fixedrange=True,
                  tickfont=dict(family=SERIF, size=15, color='#333'))
    layout_axes['xaxis' + P['ax']] = dict(common, domain=[px(x0), px(x1)], range=P['xr'], dtick=P['xd'], tick0=0,
                                          anchor=ya,
                                          minor=dict(dtick=P['xm'], tick0=0, ticks='inside', ticklen=3, tickcolor='#777'))
    layout_axes['yaxis' + P['ax']] = dict(common, domain=[py(y1), py(y0)], range=P['yr'], dtick=P['yd'], tick0=0,
                                          anchor=xa,
                                          minor=dict(dtick=P['ym'], tick0=0, ticks='inside', ticklen=3, tickcolor='#777'))
    # texts
    annotations.append(note(P['title'][0], P['title'][1],
                            'load ratio R=0.1; r<sub>max</sub>/(w-a)=%s; N<sub>w</sub>=%s' % (P['sub'], P['nw']), 18))
    annotations.append(note(P['lab'][0], P['lab'][1], '(%s)' % key, 20))
    annotations.append(note(P['cbt'][0], P['cbt'][1], 'Δ<i>I</i> [MPa]', 17))
    annotations.append(note(P['xt'][0], P['xt'][1], 'pixels', 16, color='#333'))
    annotations.append(note(P['yt'][0], P['yt'][1], 'pixels', 16, color='#333', angle=-90))
    for t, lx, ly in D['labels']:
        annotations.append(dict(x=lx, y=ly, xref=xa, yref=ya, xanchor='center', yanchor='middle', showarrow=False,
                                text=t, font=dict(family=SANS, size=11.5, color='#333')))

fig.update_layout(width=W, height=H, margin=dict(l=0, r=0, t=0, b=0), paper_bgcolor='white', plot_bgcolor='white',
                  showlegend=False, annotations=annotations, **layout_axes)

fig.write_html('out.html')
